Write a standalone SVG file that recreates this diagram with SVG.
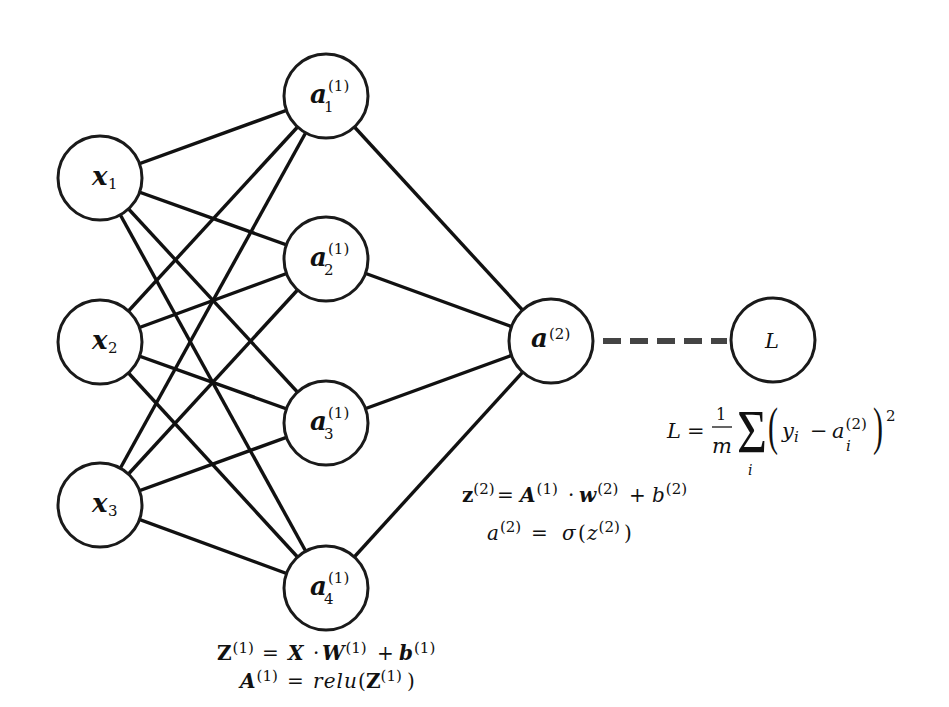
<svg xmlns="http://www.w3.org/2000/svg" width="949" height="707" viewBox="0 0 949 707">
<style>
.edge{stroke:#111;stroke-width:3.4;fill:none}
.node{fill:#fff;stroke:#1a1a1a;stroke-width:3}
.dash{stroke:#444;stroke-width:6;stroke-dasharray:18 9;fill:none}
text{font-family:"DejaVu Serif","Liberation Serif",serif;fill:#111}
.nl{font-size:26px;font-weight:bold;font-style:italic}
.ns{font-size:15px}
.m{font-size:20px}
.bi{font-weight:bold;font-style:italic}
.bd{font-weight:bold}
.it{font-style:italic}
.sp{font-size:15px;font-style:normal;font-weight:normal}
.big{font-family:"Liberation Serif",serif}
</style>
<rect width="949" height="707" fill="#fff"/>
<g id="connectors">
<line class="edge" x1="100" y1="178" x2="326" y2="96"/>
<line class="edge" x1="100" y1="178" x2="326" y2="259"/>
<line class="edge" x1="100" y1="178" x2="326" y2="423"/>
<line class="edge" x1="100" y1="178" x2="326" y2="588"/>
<line class="edge" x1="100" y1="342" x2="326" y2="96"/>
<line class="edge" x1="100" y1="342" x2="326" y2="259"/>
<line class="edge" x1="100" y1="342" x2="326" y2="423"/>
<line class="edge" x1="100" y1="342" x2="326" y2="588"/>
<line class="edge" x1="100" y1="505" x2="326" y2="96"/>
<line class="edge" x1="100" y1="505" x2="326" y2="259"/>
<line class="edge" x1="100" y1="505" x2="326" y2="423"/>
<line class="edge" x1="100" y1="505" x2="326" y2="588"/>
<line class="edge" x1="326" y1="96" x2="551" y2="341"/>
<line class="edge" x1="326" y1="259" x2="551" y2="341"/>
<line class="edge" x1="326" y1="423" x2="551" y2="341"/>
<line class="edge" x1="326" y1="588" x2="551" y2="341"/>
<line class="dash" x1="603" y1="341" x2="727" y2="341"/>
</g>
<g id="x1"><circle class="node" cx="100" cy="178" r="42"/><text class="nl" x="92" y="185">x</text><text class="ns" x="108" y="189">1</text></g>
<g id="x2"><circle class="node" cx="100" cy="342" r="42"/><text class="nl" x="92" y="349">x</text><text class="ns" x="108" y="353">2</text></g>
<g id="x3"><circle class="node" cx="100" cy="505" r="42"/><text class="nl" x="92" y="512">x</text><text class="ns" x="108" y="516">3</text></g>
<g id="a1"><circle class="node" cx="326" cy="96" r="42"/><text class="nl" x="310" y="103">a</text><text class="ns" x="328" y="91">(1)</text><text class="ns" x="324" y="112">1</text></g>
<g id="a2"><circle class="node" cx="326" cy="259" r="42"/><text class="nl" x="310" y="266">a</text><text class="ns" x="328" y="254">(1)</text><text class="ns" x="324" y="275">2</text></g>
<g id="a3"><circle class="node" cx="326" cy="423" r="42"/><text class="nl" x="310" y="430">a</text><text class="ns" x="328" y="418">(1)</text><text class="ns" x="324" y="439">3</text></g>
<g id="a4"><circle class="node" cx="326" cy="588" r="42"/><text class="nl" x="310" y="595">a</text><text class="ns" x="328" y="583">(1)</text><text class="ns" x="324" y="604">4</text></g>
<g id="out"><circle class="node" cx="551" cy="341" r="42"/><text class="nl" x="531" y="347">a</text><text class="ns" x="549" y="339">(2)</text></g>
<g id="loss"><circle class="node" cx="773" cy="340" r="42"/><text class="it" style="font-size:21px" x="765" y="348">L</text></g>
<g id="loss-formula">
<text class="it" style="font-size:21px" x="667" y="438">L</text>
<text style="font-size:21px" x="687" y="438">=</text>
<text style="font-size:16px" x="716" y="420">1</text>
<line x1="712" y1="427" x2="732" y2="427" stroke="#111" stroke-width="1.3"/>
<text class="it" style="font-size:21px" x="712" y="453">m</text>
<text class="big" style="font-size:62px" x="737" y="452" textLength="30" lengthAdjust="spacingAndGlyphs">Σ</text>
<text class="it" style="font-size:14px" x="748" y="475">i</text>
<text class="big" style="font-size:52px" x="768" y="444" textLength="10" lengthAdjust="spacingAndGlyphs">(</text>
<text class="it" style="font-size:21px" x="782" y="438">y<tspan style="font-size:15px" dy="4">i</tspan></text>
<text style="font-size:21px" x="810" y="438">−</text>
<text class="it" style="font-size:21px" x="832" y="438">a<tspan style="font-size:15px;font-style:normal" dx="1" dy="-9">(2)</tspan></text>
<text class="it" style="font-size:15px" x="846" y="451">i</text>
<text class="big" style="font-size:52px" x="873" y="444" textLength="10" lengthAdjust="spacingAndGlyphs">)</text>
<text style="font-size:15px" x="886" y="421">2</text>
</g>
<g id="layer2-formula" class="m">
<text x="462" y="502"><tspan class="bd">z</tspan><tspan class="sp" dy="-8">(2)</tspan></text>
<text x="497" y="502">=</text>
<text x="520" y="502"><tspan class="bi">A</tspan><tspan class="sp" dx="1" dy="-8">(1)</tspan></text>
<text x="568" y="502">·</text>
<text x="579" y="502"><tspan class="bi">w</tspan><tspan class="sp" dx="1" dy="-8">(2)</tspan></text>
<text x="629" y="502">+</text>
<text x="652" y="502"><tspan class="it">b</tspan><tspan class="sp" dx="1" dy="-8">(2)</tspan></text>
<text x="487" y="540"><tspan class="it">a</tspan><tspan class="sp" dx="1" dy="-8">(2)</tspan></text>
<text x="531" y="540">=</text>
<text class="it" x="562" y="540">σ</text>
<text x="578" y="540">(</text>
<text x="587" y="540"><tspan class="it">z</tspan><tspan class="sp" dx="1" dy="-8">(2)</tspan></text>
<text x="624" y="540">)</text>
</g>
<g id="layer1-formula" class="m">
<text x="217" y="660"><tspan class="bd">Z</tspan><tspan class="sp" dx="1" dy="-7">(1)</tspan></text>
<text x="262" y="660">=</text>
<text class="bi" x="288" y="660">X</text>
<text x="313" y="660">·</text>
<text x="322" y="660"><tspan class="bi">W</tspan><tspan class="sp" dx="1" dy="-7">(1)</tspan></text>
<text x="377" y="660">+</text>
<text x="399" y="660"><tspan class="bi">b</tspan><tspan class="sp" dx="1" dy="-7">(1)</tspan></text>
<text x="240" y="688"><tspan class="bi">A</tspan><tspan class="sp" dx="1" dy="-7">(1)</tspan></text>
<text x="287" y="688">=</text>
<text class="it" x="313" y="688" textLength="44" lengthAdjust="spacing">relu</text>
<text x="358" y="688">(</text>
<text x="366" y="688"><tspan class="bd">Z</tspan><tspan class="sp" dy="-7">(1)</tspan></text>
<text x="407" y="688">)</text>
</g>
</svg>
